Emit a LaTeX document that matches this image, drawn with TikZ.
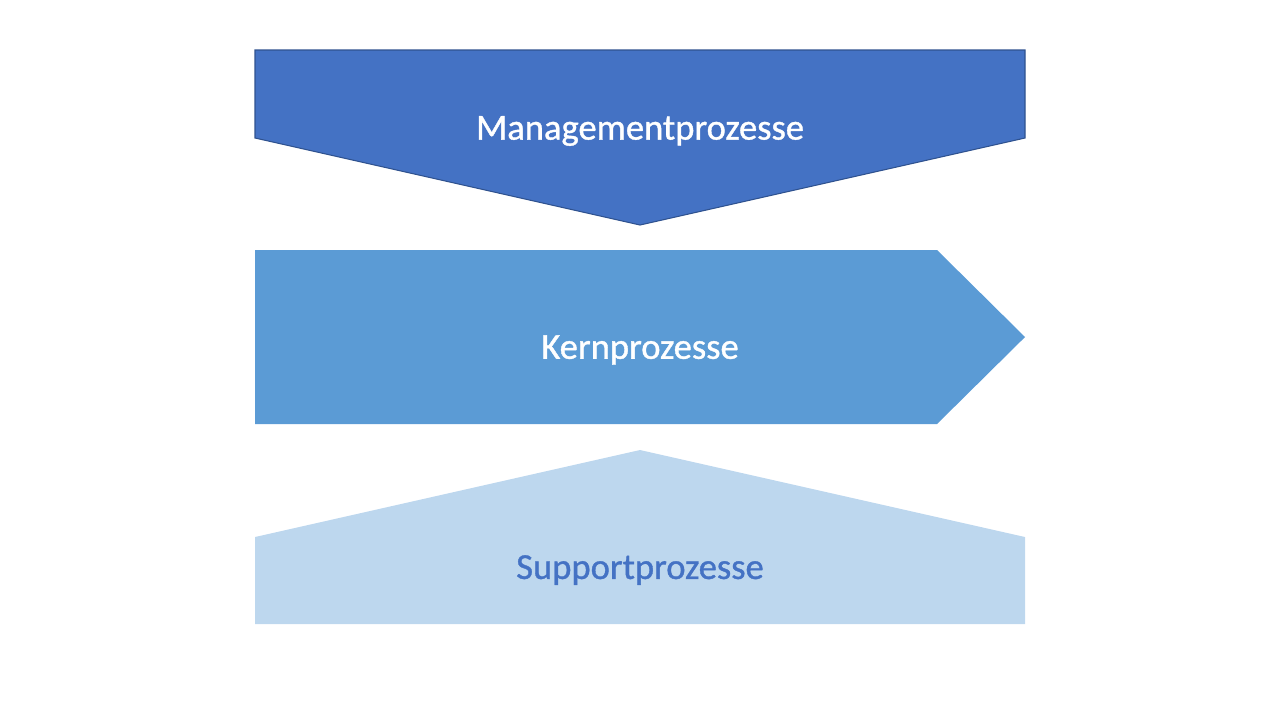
\documentclass[tikz,border=0pt]{standalone}
\usepackage{fontspec}
\setmainfont{Carlito}
\newfontfamily\lblfont[FakeBold=1]{Carlito}
\usepackage{xcolor}
\usepackage{tikz}
\usetikzlibrary{positioning}
\definecolor{mgmtblue}{HTML}{4472C4}
\definecolor{mgmtedge}{HTML}{2F528F}
\definecolor{coreblue}{HTML}{5B9BD5}
\definecolor{suppblue}{HTML}{BDD7EE}
\tikzset{
  lbl/.style={font=\lblfont\fontsize{10.4pt}{12pt}\selectfont,text=white,inner sep=0pt}
}

\begin{document}
\begin{tikzpicture}[x=.01cm,y=-.01cm]
\useasboundingbox (0,0) rectangle (1280,720);
% management: pentagon pointing down
\fill[mgmtblue] (255,50) -- (1025,50) -- (1025,138) -- (640,225) -- (255,138) -- cycle;
\draw[mgmtedge,line width=.3pt] (255,50) -- (1025,50) -- (1025,138) -- (640,225) -- (255,138) -- cycle;
\node[lbl] (mgmt) at (640,131) {Managementprozesse};
% core: arrow pointing right
\fill[coreblue] (255,250) -- (937,250) -- (1025,337) -- (937,424) -- (255,424) -- cycle;
\node[lbl] (core) at (640,350) {Kernprozesse};
% support: pentagon pointing up
\fill[suppblue] (255,537) -- (640,450) -- (1025,537) -- (1025,624) -- (255,624) -- cycle;
\node[lbl,text=mgmtblue] (supp) at (640,570) {Supportprozesse};
\end{tikzpicture}
\end{document}
